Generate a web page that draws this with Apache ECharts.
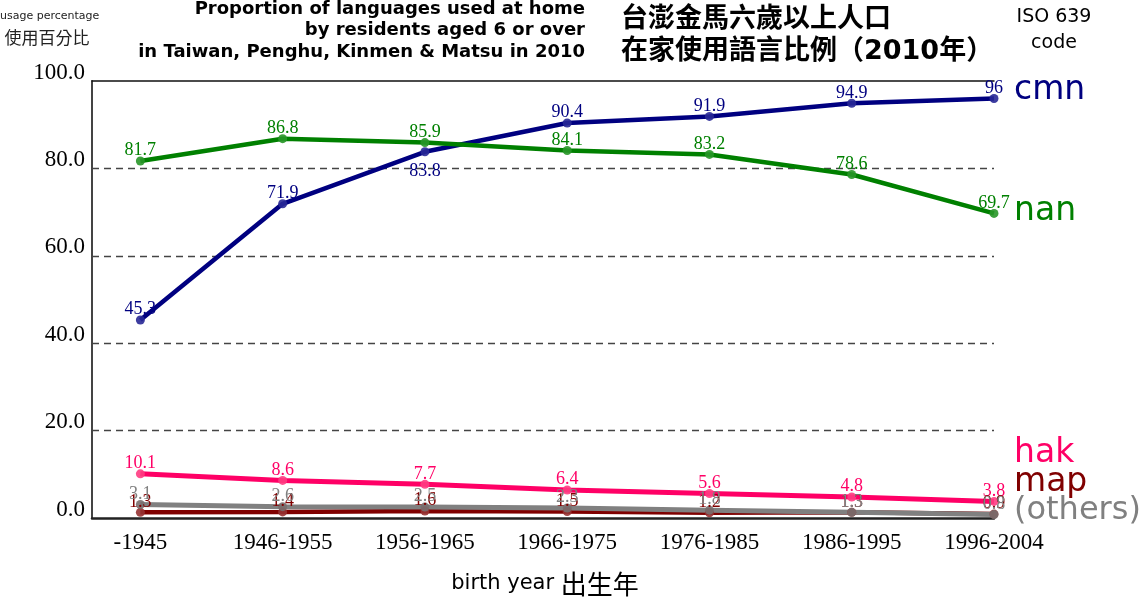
<!DOCTYPE html>
<html>
<head>
<meta charset="utf-8">
<script src="https://cdn.jsdelivr.net/npm/echarts@6/dist/echarts.min.js"></script>
<style>html,body{margin:0;padding:0;background:#fff;}#c{width:1147px;height:599px;}</style>
</head>
<body>
<div id="c"></div>
<script>
const categories = ['-1945','1946-1955','1956-1965','1966-1975','1976-1985','1986-1995','1996-2004'];
const cmn = [45.3, 71.9, 83.8, 90.4, 91.9, 94.9, 96];
const nan = [81.7, 86.8, 85.9, 84.1, 83.2, 78.6, 69.7];
const hak = [10.1, 8.6, 7.7, 6.4, 5.6, 4.8, 3.8];
const map = [1.3, 1.4, 1.6, 1.5, 1.2, 1.3, 0.9];
const others = [3.1, 2.6, 2.5, 2.3, 1.8, 1.3, 0.8];
const yTicks = [0, 20, 40, 60, 80, 100];
const cmnLabelBelow = [2];

const serifLabel = '"Liberation Serif", serif';
const axisSerif = '"Liberation Serif", serif';
const sans = '"DejaVu Sans", sans-serif';
const cjk = '"DejaVu Sans", "Noto Sans CJK TC", sans-serif';

function mkSeries(name, values, color, pointColor, width, below) {
  return {
    name: name,
    type: 'line',
    symbol: 'circle',
    symbolSize: 9,
    lineStyle: { color: color, width: width },
    itemStyle: { color: pointColor },
    label: {
      show: true, position: 'top', distance: -3,
      color: color, fontFamily: serifLabel, fontSize: 18,
      formatter: p => String(p.value[1])
    },
    emphasis: { disabled: true },
    data: values.map((v, i) => {
      const d = { value: [i, v] };
      if (below && below.indexOf(i) >= 0) d.label = { position: 'bottom', distance: 6 };
      return d;
    })
  };
}

const chart = echarts.init(document.getElementById('c'), null, { renderer: 'canvas' });
chart.setOption({
  animation: false,
  backgroundColor: '#fff',
  grid: { left: 92, right: 153, top: 81, bottom: 81 },
  xAxis: [{
    type: 'value', min: -0.34, max: 6, position: 'bottom',
    axisLine: { show: true, onZero: false, lineStyle: { color: '#222', width: 2.5 } },
    axisTick: { show: false },
    splitLine: { show: false },
    axisLabel: {
      customValues: categories.map((c, i) => i),
      formatter: v => categories[Math.round(v)],
      fontFamily: axisSerif, fontSize: 23, color: '#000', margin: 13
    }
  }, {
    type: 'value', min: -0.34, max: 6, position: 'top',
    axisLine: { show: true, onZero: false, lineStyle: { color: '#111', width: 1.5 } },
    axisTick: { show: false }, axisLabel: { show: false }, splitLine: { show: false }
  }],
  yAxis: {
    type: 'value', min: 0, max: 100, interval: 20,
    axisLine: { show: true, onZero: false, lineStyle: { color: '#444', width: 2 } },
    axisTick: { show: false },
    splitLine: { show: true, showMinLine: false, showMaxLine: false,
      lineStyle: { color: '#444', width: 1.3, type: [7, 5] } },
    axisLabel: {
      customValues: yTicks,
      formatter: v => v.toFixed(1),
      fontFamily: axisSerif, fontSize: 23, color: '#000', margin: 7,
      verticalAlign: 'bottom', lineHeight: 17
    }
  },
  series: [
    mkSeries('cmn', cmn, '#000080', 'rgba(40,40,150,0.9)', 4.5, cmnLabelBelow),
    mkSeries('nan', nan, '#008000', 'rgba(40,150,40,0.9)', 4.5),
    mkSeries('hak', hak, '#ff0066', 'rgba(255,60,130,0.9)', 5),
    mkSeries('map', map, '#800000', 'rgba(150,50,50,0.9)', 4.5),
    mkSeries('(others)', others, '#808080', 'rgba(120,110,110,0.9)', 5)
  ],
  graphic: [
    { type: 'text', x: 0, y: 16, style: { text: 'usage percentage', font: '11px ' + sans, fill: '#222', textAlign: 'left', textVerticalAlign: 'middle' } },
    { type: 'text', x: 47, y: 38, style: { text: '使用百分比', font: '17px "Noto Sans CJK TC", sans-serif', fill: '#222', textAlign: 'center', textVerticalAlign: 'middle' } },
    { type: 'text', x: 585, y: 9, style: { text: 'Proportion of languages used at home', font: 'bold 18px ' + sans, fill: '#000', textAlign: 'right', textVerticalAlign: 'middle' } },
    { type: 'text', x: 585, y: 30.5, style: { text: 'by residents aged 6 or over', font: 'bold 18px ' + sans, fill: '#000', textAlign: 'right', textVerticalAlign: 'middle' } },
    { type: 'text', x: 585, y: 52, style: { text: 'in Taiwan, Penghu, Kinmen & Matsu in 2010', font: 'bold 18px ' + sans, fill: '#000', textAlign: 'right', textVerticalAlign: 'middle' } },
    { type: 'text', x: 621, y: 20, style: { text: '台澎金馬六歲以上人口', font: 'bold 27px ' + cjk, fill: '#000', textAlign: 'left', textVerticalAlign: 'middle' } },
    { type: 'text', x: 621, y: 52, style: { text: '在家使用語言比例（2010年）', font: 'bold 27px ' + cjk, fill: '#000', textAlign: 'left', textVerticalAlign: 'middle' } },
    { type: 'text', x: 1054, y: 17, style: { text: 'ISO 639', font: '19px ' + sans, fill: '#000', textAlign: 'center', textVerticalAlign: 'middle' } },
    { type: 'text', x: 1054, y: 43, style: { text: 'code', font: '19px ' + sans, fill: '#000', textAlign: 'center', textVerticalAlign: 'middle' } },
    { type: 'text', x: 1014, y: 90, style: { text: 'cmn', font: '33px ' + sans, fill: '#000080', textAlign: 'left', textVerticalAlign: 'middle' } },
    { type: 'text', x: 1014, y: 211, style: { text: 'nan', font: '33px ' + sans, fill: '#008000', textAlign: 'left', textVerticalAlign: 'middle' } },
    { type: 'text', x: 1014, y: 453, style: { text: 'hak', font: '33px ' + sans, fill: '#ff0066', textAlign: 'left', textVerticalAlign: 'middle' } },
    { type: 'text', x: 1014, y: 482, style: { text: 'map', font: '33px ' + sans, fill: '#800000', textAlign: 'left', textVerticalAlign: 'middle' } },
    { type: 'text', x: 1014, y: 511, style: { text: '(others)', font: '32px ' + sans, fill: '#808080', textAlign: 'left', textVerticalAlign: 'middle' } },
    { type: 'text', x: 545, y: 584, style: {
        text: '{a|birth year }{b|出生年}', textAlign: 'center', textVerticalAlign: 'middle',
        rich: { a: { fontFamily: sans, fontSize: 21, fill: '#000' }, b: { fontFamily: '"Noto Sans CJK TC", sans-serif', fontSize: 26, fill: '#000' } }
    } }
  ]
});
</script>
</body>
</html>
